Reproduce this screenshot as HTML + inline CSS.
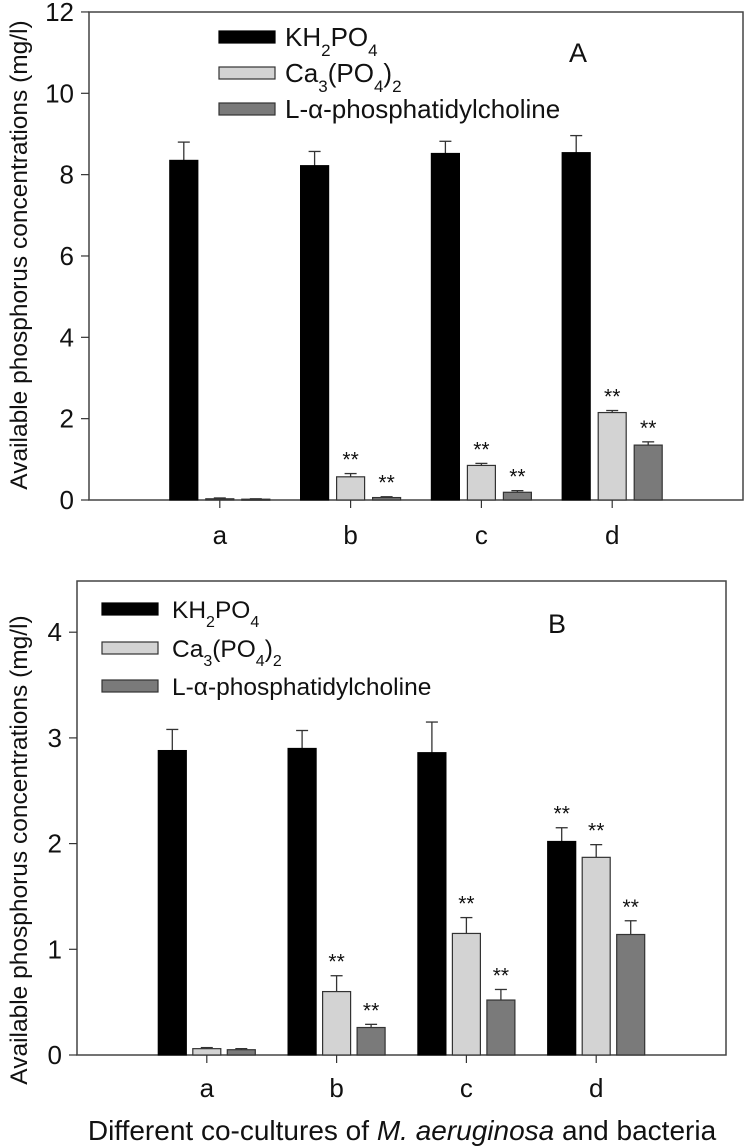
<!DOCTYPE html>
<html><head><meta charset="utf-8"><style>
html,body{margin:0;padding:0;background:#fff;}
svg{display:block;font-family:"Liberation Sans",Arial,sans-serif;}
</style></head><body>
<svg id="chart" width="748" height="1148" viewBox="0 0 748 1148" xmlns="http://www.w3.org/2000/svg"></svg>
<script>
const categories = ["a","b","c","d"];
const seriesNames = ["KH2PO4","Ca3(PO4)2","L-alpha-phosphatidylcholine"];
const aKH = [8.35, 8.22, 8.52, 8.54];
const aKHErr = [0.45, 0.35, 0.30, 0.42];
const aCa = [0.03, 0.57, 0.85, 2.15];
const aCaErr = [0.02, 0.08, 0.05, 0.05];
const aL = [0.02, 0.06, 0.19, 1.35];
const aLErr = [0.01, 0.02, 0.04, 0.08];
const aStars = [[false,false,false],[false,true,true],[false,true,true],[false,true,true]];
const aTicks = [0,2,4,6,8,10,12];
const bKH = [2.88, 2.90, 2.86, 2.02];
const bKHErr = [0.20, 0.17, 0.29, 0.13];
const bCa = [0.06, 0.60, 1.15, 1.87];
const bCaErr = [0.01, 0.15, 0.15, 0.12];
const bL = [0.05, 0.26, 0.52, 1.14];
const bLErr = [0.01, 0.03, 0.10, 0.13];
const bStars = [[false,false,false],[false,true,true],[false,true,true],[true,true,true]];
const bTicks = [0,1,2,3,4];

const svg = document.getElementById('chart');
const NS = 'http://www.w3.org/2000/svg';
function mk(tag, attrs, parent){
  const e = document.createElementNS(NS, tag);
  for (const k in attrs) e.setAttribute(k, attrs[k]);
  (parent||svg).appendChild(e);
  return e;
}
const fills = ['#000000','#d3d3d3','#7a7a7a'];

function panel(p){
  const g = mk('g', {});
  
  
  const xs = c => p.left + (c+1)*(p.right-p.left)/5;
  const ys = v => p.zero - v*p.unit;
  const frame = mk('rect', {x:p.left, y:p.top, width:p.right-p.left, height:p.zero-p.top, fill:'none', stroke:'#444', 'stroke-width':1.5}, g);
  
  
  p.ticks.forEach(t => {
    mk('line', {x1:p.left-8, x2:p.left, y1:ys(t), y2:ys(t), stroke:'#333', 'stroke-width':1.2}, g);
    const tl = mk('text', {x:p.left-15, y:ys(t)+9, 'text-anchor':'end', 'font-size':26, fill:'#111'}, g);
    tl.textContent = t;
    
    
  });
  const series = [p.kh, p.ca, p.l];
  const errs = [p.khE, p.caE, p.lE];
  const step = p.step, bw = 28;
  categories.forEach((c, ci) => {
    const cx = xs(ci);
    mk('line', {x1:cx, x2:cx, y1:p.zero, y2:p.zero+8, stroke:'#333', 'stroke-width':1.2}, g);
    const xl = mk('text', {x:cx, y:p.xlabY, 'text-anchor':'middle', 'font-size':26, fill:'#111'}, g);
    xl.textContent = c;
    
    
    series.forEach((s, si) => {
      const bx = cx + (si-1)*step - bw/2;
      const v = s[ci], e = errs[si][ci];
      const top = ys(v + e);
      mk('line', {x1:bx+bw/2, x2:bx+bw/2, y1:ys(v), y2:top, stroke:'#333', 'stroke-width':1.3}, g);
      mk('line', {x1:bx+bw/2-6, x2:bx+bw/2+6, y1:top, y2:top, stroke:'#333', 'stroke-width':1.3}, g);
      const r = mk('rect', {x:bx, y:ys(v), width:bw, height:Math.max(p.zero-ys(v),1), fill:fills[si], stroke:si===0?'#000':'#333', 'stroke-width':1.2}, g);
      
      
      if (p.stars[ci][si]) {
        const st = mk('text', {x:bx+bw/2, y:top-7, 'text-anchor':'middle', 'font-size':21, fill:'#111'}, g);
        st.textContent = '**';
        
        
      }
    });
  });
  const sub = Math.round(p.legFont*0.65);
  const labels = [
    'KH<tspan baseline-shift="sub" font-size="'+sub+'">2</tspan>PO<tspan baseline-shift="sub" font-size="'+sub+'">4</tspan>',
    'Ca<tspan baseline-shift="sub" font-size="'+sub+'">3</tspan>(PO<tspan baseline-shift="sub" font-size="'+sub+'">4</tspan>)<tspan baseline-shift="sub" font-size="'+sub+'">2</tspan>',
    'L-α-phosphatidylcholine'
  ];
  p.legY.forEach((ly, i) => {
    const sw = mk('rect', {x:p.legX, y:ly-6, width:56, height:12, fill:fills[i], stroke:i===0?'#000':'#333', 'stroke-width':1.2}, g);
    
    
    const lt = mk('text', {x:p.legTX, y:ly+9, 'font-size':p.legFont, fill:'#111'}, g);
    lt.innerHTML = labels[i];
    
    
  });
  const pl = mk('text', {x:p.plX, y:p.plY, 'text-anchor':'middle', 'font-size':27, fill:'#111'}, g);
  pl.textContent = p.letter;
  
  
  const yt = mk('text', {x:0, y:0, 'text-anchor':'middle', 'font-size':24.5, fill:'#111', transform:'translate(27,'+p.ytY+') rotate(-90)'}, g);
  yt.textContent = 'Available phosphorus concentrations (mg/l)';
  
  
}

panel({name:'panel-a', left:89, right:743, top:12, zero:500, unit:40.67, step:36,
  kh:aKH, khE:aKHErr, ca:aCa, caE:aCaErr, l:aL, lE:aLErr, stars:aStars, ticks:aTicks,
  xlabY:544, legX:219, legTX:285, legY:[37,73,109], legFont:26, letter:'A', plX:578, plY:62, ytY:255});
panel({name:'panel-b', left:77, right:726, top:581, zero:1055, unit:105.7, step:34.5,
  kh:bKH, khE:bKHErr, ca:bCa, caE:bCaErr, l:bL, lE:bLErr, stars:bStars, ticks:bTicks,
  xlabY:1097, legX:102, legTX:172, legY:[609,648,686], legFont:24.5, letter:'B', plX:557, plY:633, ytY:850});

const xt = mk('text', {x:402, y:1140, 'text-anchor':'middle', 'font-size':28, fill:'#111'});
xt.innerHTML = 'Different co-cultures of <tspan font-style="italic">M. aeruginosa</tspan> and bacteria';


</script>
</body></html>
